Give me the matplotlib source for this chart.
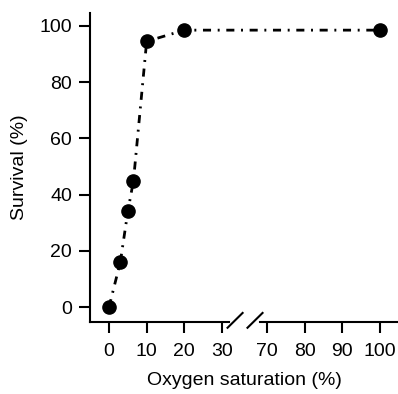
import numpy as np
import matplotlib.pyplot as plt

plt.rcParams['font.family'] = ['Liberation Sans', 'DejaVu Sans']

# DADOS
oxigenio = np.array([0, 3, 5, 6.5, 10, 20, 100])
sobrevivencia = np.array([0, 16, 34, 45, 94.5, 98.5, 98.5])
ticks_x = [0, 10, 20, 30, 70, 80, 90, 100]
ticks_y = [0, 20, 40, 60, 80, 100]

# eixo x quebrado entre 30 e 70
def pos(x):
    x = np.asarray(x, dtype=float)
    return np.where(x <= 30, x, x - 70 + 42)

fig = plt.figure(figsize=(3.98, 3.94), dpi=100)
ax = fig.add_axes([0.226, 0.183, 0.774, 0.784])

ax.plot(pos(oxigenio), sobrevivencia, color='black', linestyle=(0, (2.9, 2.4, 0.7, 2.4)),
        linewidth=2, marker='o', markersize=9.5, clip_on=False)

ax.set_xlim(-5.07, 76.8)
ax.set_ylim(-5.3, 104.6)
ax.set_xticks(pos(ticks_x))
ax.set_xticklabels([str(t) for t in ticks_x])
ax.set_yticks(ticks_y)

for s in ['top', 'right', 'bottom']:
    ax.spines[s].set_visible(False)
ax.spines['left'].set_linewidth(1.5)
ax.tick_params(axis='both', direction='out', length=8, width=1.5, labelsize=14, pad=5)
ax.tick_params(axis='x', pad=7)

# linha do eixo x em dois pedaços + marcas da quebra
tr = ax.get_xaxis_transform()
ax.plot([-5.07, 31.8], [0, 0], color='black', linewidth=1.5, transform=tr, clip_on=False)
ax.plot([40.2, 76.8], [0, 0], color='black', linewidth=1.5, transform=tr, clip_on=False)
for x0 in [31.5, 36.8]:
    ax.plot([x0, x0 + 4], [-0.019, 0.029], color='black', linewidth=1.5,
            transform=tr, clip_on=False)

ax.set_xlabel('Oxygen saturation (%)', fontsize=14, labelpad=9)
ax.set_ylabel('Survival (%)', fontsize=14, labelpad=8)

plt.savefig('out.png', dpi=100)
